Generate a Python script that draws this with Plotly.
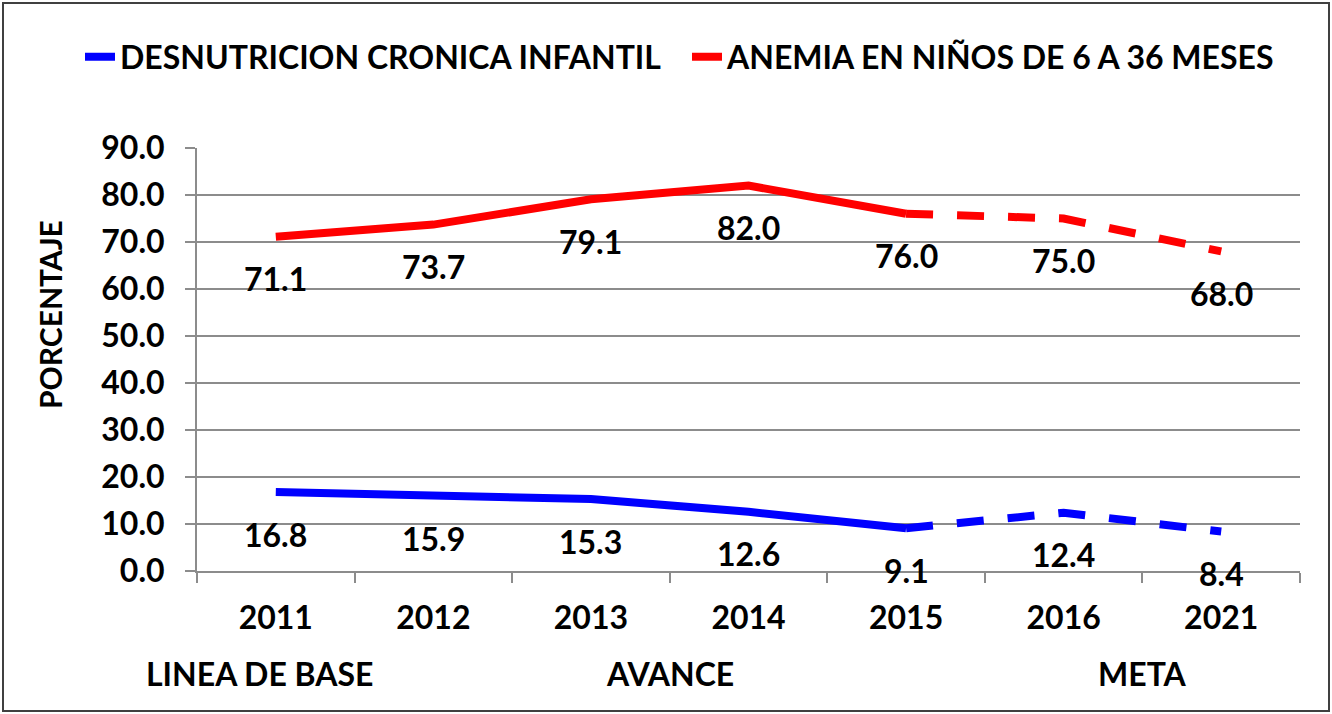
import plotly.graph_objects as go

years = ["2011", "2012", "2013", "2014", "2015", "2016", "2021"]
desnutricion = [16.8, 15.9, 15.3, 12.6, 9.1, 12.4, 8.4]
anemia = [71.1, 73.7, 79.1, 82.0, 76.0, 75.0, 68.0]
series_names = ["DESNUTRICION CRONICA INFANTIL", "ANEMIA EN NIÑOS DE 6 A 36 MESES"]
series_colors = ["#0000FF", "#FF0000"]
split_index = 4  # 2015: solid up to here, dashed afterwards
group_labels = ["LINEA DE BASE", "AVANCE", "META"]
group_positions = [0, 2.5, 5.5]
y_title = "PORCENTAJE"

W, H = 1332, 714
# plot area in page pixels: x 197..1300, y 148..571
L, R, T, B = 197, 32, 148, 143
pw, ph = 1300 - 197, 571 - 148


def px(xp):
    return (xp - 197) / pw


def py(yp):
    return (571 - yp) / ph


FONT = "Lato"
FS = 32
xi = list(range(len(years)))

fig = go.Figure()
for name, vals, col in zip(series_names, [desnutricion, anemia], series_colors):
    fig.add_trace(go.Scatter(
        x=xi[:split_index + 1], y=vals[:split_index + 1], mode="lines", name=name,
        line=dict(color=col, width=8), showlegend=True))
    fig.add_trace(go.Scatter(
        x=xi[split_index:], y=vals[split_index:], mode="lines", name=name,
        line=dict(color=col, width=8, dash="27px,24px"), showlegend=False))
    for xv, yv in zip(xi, vals):
        fig.add_annotation(x=xv, y=yv, text=f"{yv:.1f}", showarrow=False,
                           xanchor="center", yanchor="middle", yshift=-42,
                           font=dict(size=FS, color="black", family=FONT, weight="bold"))

for lab, pos, shift in zip(group_labels, group_positions, [-16, 0, 0]):
    fig.add_annotation(x=pos, xref="x", y=py(673), yref="paper", text=lab,
                       showarrow=False, xshift=shift, xanchor="center", yanchor="middle",
                       font=dict(size=FS, color="black", family=FONT, weight="bold"))

fig.add_annotation(x=px(50), xref="paper", y=py(315), yref="paper",
                   text=y_title, textangle=-90, showarrow=False,
                   xanchor="center", yanchor="middle",
                   font=dict(size=30, color="black", family=FONT, weight="bold"))

fig.add_shape(type="rect", xref="paper", yref="paper",
              x0=px(3), x1=px(1329), y0=py(711), y1=py(3),
              line=dict(color="#404040", width=2), fillcolor="rgba(0,0,0,0)")

boundaries = [i - 0.5 for i in range(len(years) + 1)]

fig.update_layout(
    width=W, height=H,
    margin=dict(l=L, r=R, t=T, b=B, autoexpand=False),
    paper_bgcolor="white", plot_bgcolor="white",
    font=dict(family=FONT, size=FS, color="black", weight="bold"),
    legend=dict(orientation="h", x=px(80), xanchor="left", y=py(57),
                yanchor="middle", font=dict(size=32, family=FONT, weight="bold"),
                bgcolor="rgba(0,0,0,0)", entrywidth=562),
    xaxis=dict(range=[-0.5, len(years) - 0.5], tickvals=xi, ticktext=years,
               showgrid=False, showline=True, linecolor="#8c8c8c", automargin=False,
               linewidth=2, ticks="", ticklabelstandoff=18,
               minor=dict(tickvals=boundaries, ticks="outside", ticklen=10,
                          tickcolor="#8c8c8c", tickwidth=2, showgrid=False),
               tickfont=dict(size=FS, family=FONT, weight="bold"), zeroline=False),
    yaxis=dict(range=[0, 90], dtick=10, tickformat=".1f", showgrid=True, automargin=False,
               gridcolor="#8c8c8c", gridwidth=2, showline=True, linecolor="#8c8c8c",
               linewidth=2, ticks="outside", ticklen=10, tickcolor="#8c8c8c", tickwidth=2,
               ticklabelstandoff=14, zeroline=False,
               tickfont=dict(size=FS, family=FONT, weight="bold")),
)

fig.write_html("out.html", config={"displayModeBar": False},
               post_script="document.body.style.margin='0';")
